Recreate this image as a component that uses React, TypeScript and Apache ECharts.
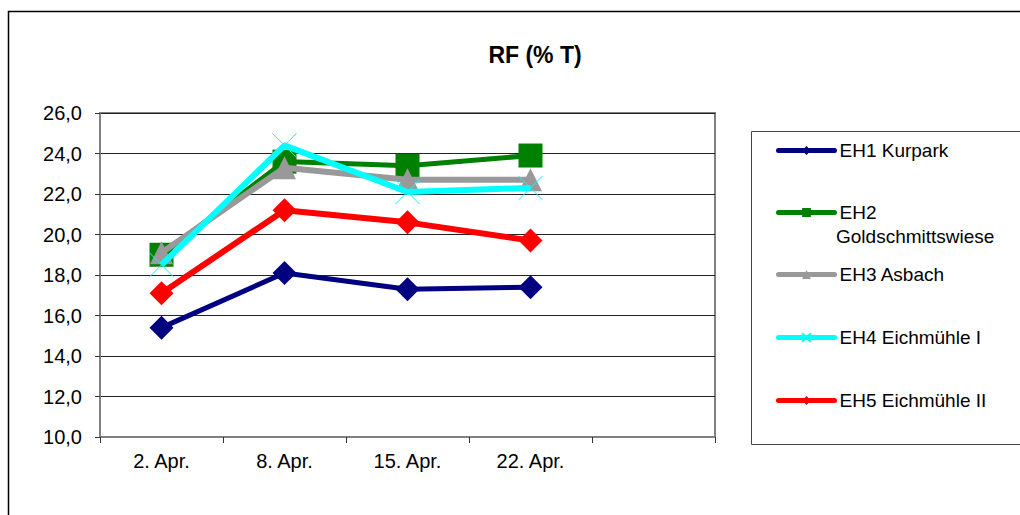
import React, { useEffect, useRef } from "react";
import * as echarts from "echarts";

const categories = ["2. Apr.", "8. Apr.", "15. Apr.", "22. Apr.", ""];
const seriesNames = ["EH1 Kurpark", "EH2 Goldschmittswiese", "EH3 Asbach", "EH4 Eichmühle I", "EH5 Eichmühle II"];
const eh1 = [15.4, 18.1, 17.3, 17.4];
const eh2 = [19.0, 23.6, 23.4, 23.9];
const eh3 = [19.1, 23.3, 22.7, 22.7];
const eh4 = [18.5, 24.4, 22.1, 22.3];
const eh5 = [17.1, 21.2, 20.6, 19.7];
const colors = ["#000080", "#008000", "#999999", "#00FFFF", "#FF0000"];

const FONT = "'Liberation Sans', Arial, sans-serif";
const X_PATH = "path://M0,0L10,10M10,0L0,10";

export default function App() {
  const ref = useRef<HTMLDivElement>(null);
  useEffect(() => {
    document.body.style.margin = "0";
    const chart = echarts.init(ref.current!, null, { renderer: "svg" });
    const data = [eh1, eh2, eh3, eh4, eh5];
    const symbols = ["diamond", "rect", "triangle", X_PATH, "diamond"];
    const sizes = [24, 24, 23, 24, 24];
    const widths = [5, 5, 6, 6, 6];
    const legendCenters = [152, 214, 276, 339, 402];
    const series = data.map((d, i) => ({
      name: seriesNames[i],
      type: "line",
      data: d,
      symbol: symbols[i],
      symbolSize: sizes[i],
      showAllSymbol: true,
      lineStyle: { color: colors[i], width: widths[i] },
      itemStyle:
        i === 3
          ? { color: "rgba(0,0,0,0)", borderColor: colors[i], borderWidth: 1 }
          : { color: colors[i], borderWidth: 0 },
      z: 2 + i,
    }));
    const legends = seriesNames.map((n, i) => ({
      data: [n],
      left: 776,
      top: legendCenters[i] - 11,
      padding: 0,
      itemWidth: 56,
      itemHeight: 11,
      itemGap: 4,
      formatter: (name: string) => (name.startsWith("EH2") ? "EH2" : name),
      textStyle: { fontFamily: FONT, fontSize: 19, color: "#000" },
      lineStyle: { width: 5, cap: "round" },
      selectedMode: false,
    }));
    chart.setOption({
      animation: false,
      backgroundColor: "#fff",
      title: {
        text: "RF (% T)",
        left: 530,
        top: 38,
        textAlign: "center",
        textStyle: { fontFamily: FONT, fontSize: 23, fontWeight: "bold", color: "#000" },
      },
      legend: legends,
      grid: {
        left: 100,
        top: 113,
        width: 615,
        height: 324,
        show: true,
        borderColor: "#808080",
        borderWidth: 2,
        containLabel: false,
      },
      xAxis: {
        type: "category",
        data: categories,
        boundaryGap: true,
        axisLine: { lineStyle: { color: "#808080", width: 2 } },
        axisTick: { show: true, length: 6, lineStyle: { color: "#333" }, alignWithLabel: false },
        axisLabel: { fontFamily: FONT, fontSize: 20, color: "#000", margin: 14 },
        splitLine: { show: false },
      },
      yAxis: {
        type: "value",
        min: 10,
        max: 26,
        interval: 2,
        axisLine: { show: true, lineStyle: { color: "#808080", width: 2 } },
        axisTick: { show: true, length: 5, lineStyle: { color: "#333" } },
        axisLabel: {
          fontFamily: FONT,
          fontSize: 20,
          color: "#000",
          margin: 18,
          formatter: (v: number) => v.toFixed(1).replace(".", ","),
        },
        splitLine: { show: true, lineStyle: { color: "#222", width: 1 } },
      },
      series,
      graphic: [
        {
          type: "rect",
          shape: { x: 8.5, y: 11.5, width: 1100, height: 700 },
          style: { fill: "none", stroke: "#000", lineWidth: 1.5 },
          silent: true,
          z: -1,
        },
        {
          type: "rect",
          shape: { x: 751.5, y: 131.5, width: 400, height: 313 },
          style: { fill: "none", stroke: "#444", lineWidth: 1 },
          silent: true,
        },
        {
          type: "text",
          left: 836,
          top: 227,
          style: { text: "Goldschmittswiese", font: `19px ${FONT}`, fill: "#000" },
          silent: true,
        },
      ],
    });
    return () => chart.dispose();
  }, []);
  return <div ref={ref} style={{ width: 1020, height: 515 }} />;
}
